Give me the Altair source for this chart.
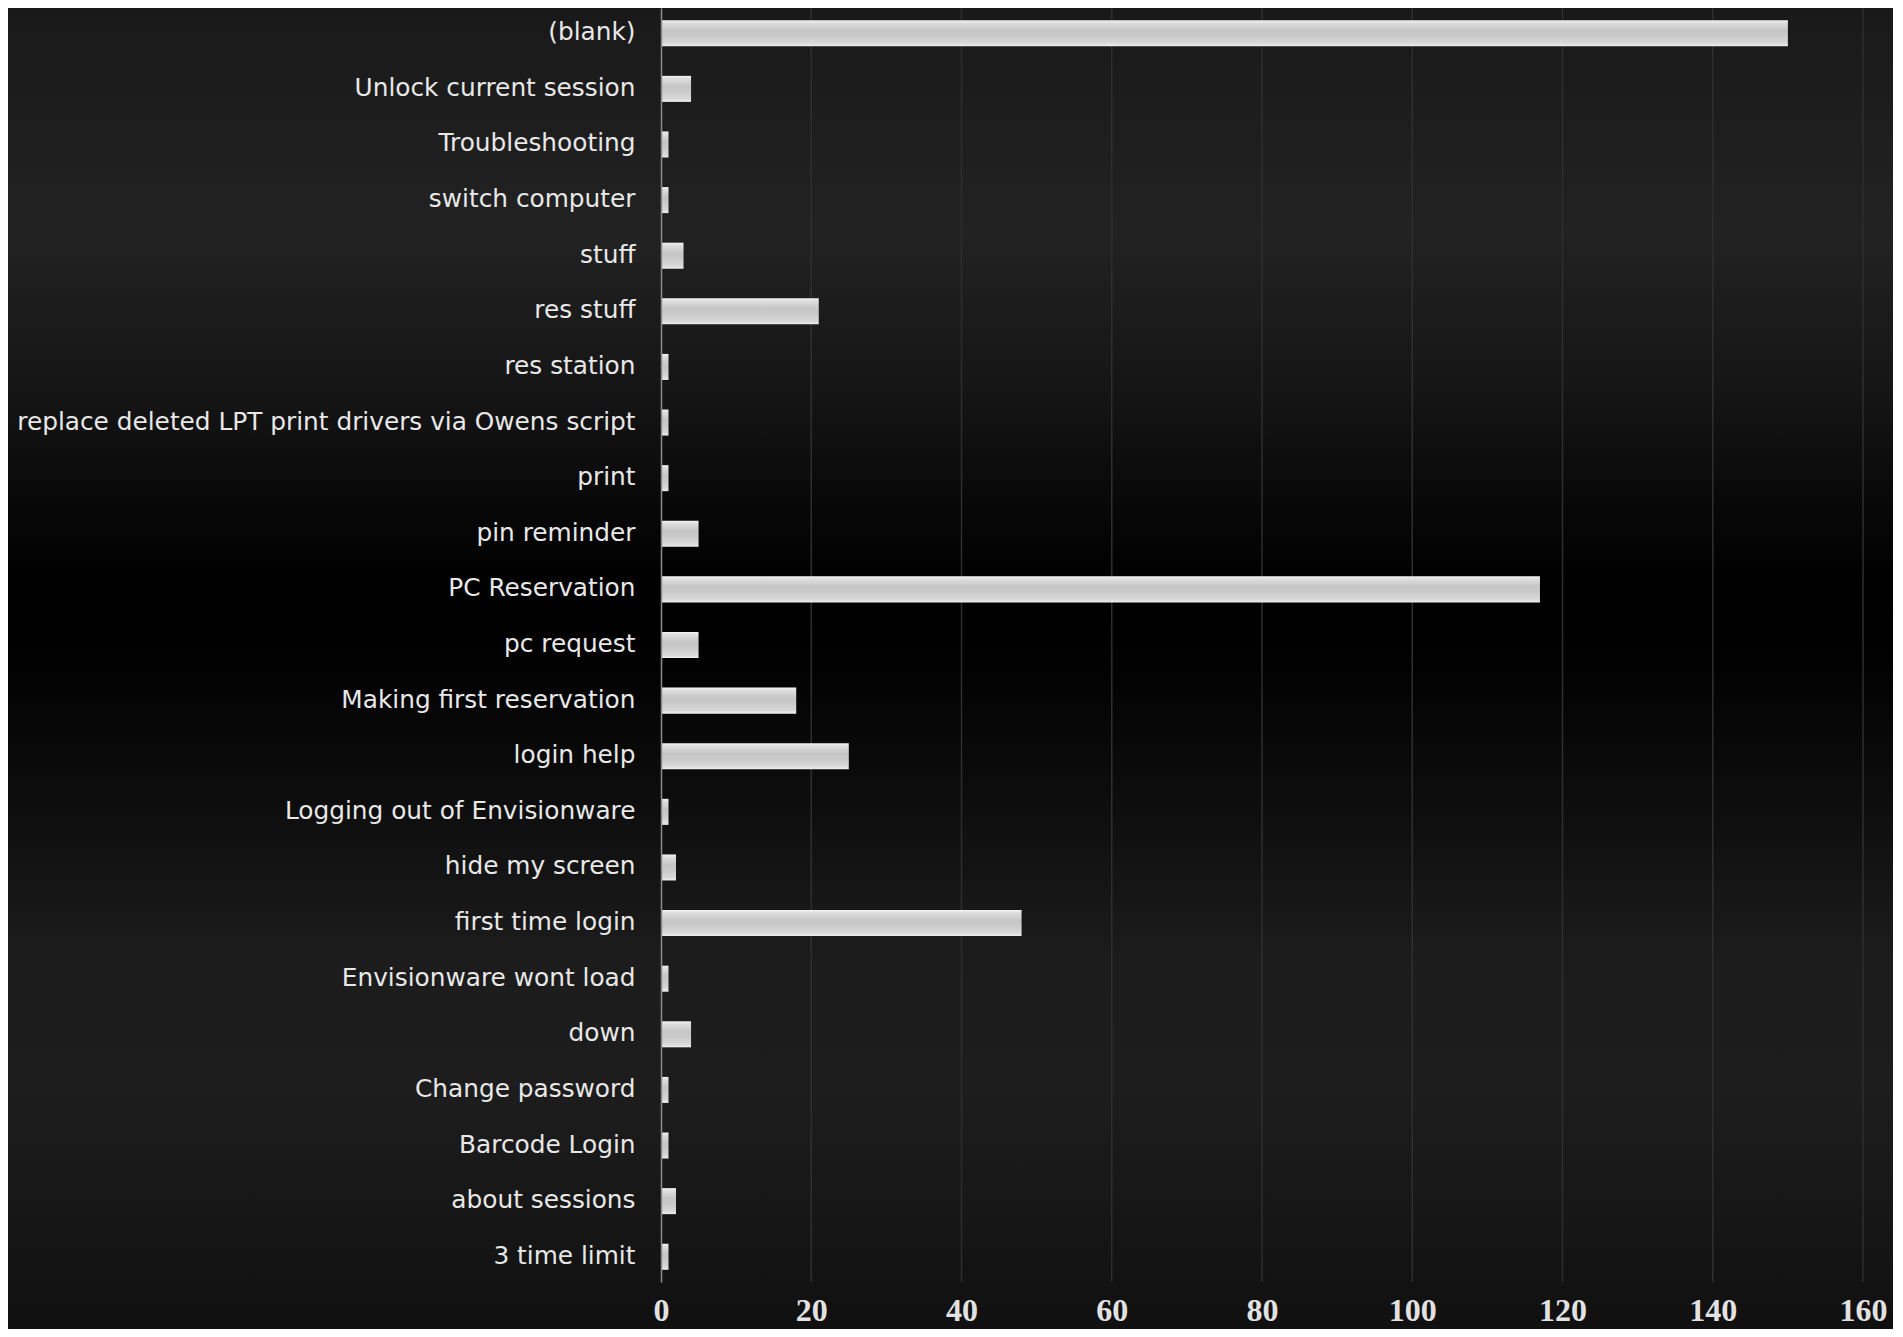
import altair as alt
import pandas as pd

categories = ["(blank)", "Unlock current session", "Troubleshooting", "switch computer",
              "stuff", "res stuff", "res station",
              "replace deleted LPT print drivers via Owens script", "print", "pin reminder",
              "PC Reservation", "pc request", "Making first reservation", "login help",
              "Logging out of Envisionware", "hide my screen", "first time login",
              "Envisionware wont load", "down", "Change password", "Barcode Login",
              "about sessions", "3 time limit"]
values = [150, 4, 1, 1, 3, 21, 1, 1, 1, 5, 117, 5, 18, 25, 1, 2, 48, 1, 4, 1, 1, 2, 1]
x_ticks = [0, 20, 40, 60, 80, 100, 120, 140, 160]

W, H = 1202, 1274
PAD = {"left": 653, "top": 0, "right": 30, "bottom": 47}

df = pd.DataFrame({"category": categories, "count": values})
grid_df = pd.DataFrame({"v": x_ticks[1:]})

bg_gradient = {
    "gradient": "linear", "x1": 0, "y1": 0, "x2": 0, "y2": 1,
    "stops": [
        {"offset": 0.0, "color": "#191919"},
        {"offset": 0.17, "color": "#222222"},
        {"offset": 0.30, "color": "#141414"},
        {"offset": 0.38, "color": "#070707"},
        {"offset": 0.44, "color": "#000000"},
        {"offset": 0.50, "color": "#020202"},
        {"offset": 0.60, "color": "#0d0d0d"},
        {"offset": 0.72, "color": "#1c1c1c"},
        {"offset": 0.82, "color": "#1d1d1d"},
        {"offset": 0.92, "color": "#161616"},
        {"offset": 1.0, "color": "#101010"},
    ],
}

bar_gradient = {
    "gradient": "linear", "x1": 0, "y1": 0, "x2": 0, "y2": 1,
    "stops": [
        {"offset": 0.0, "color": "#f4f4f4"},
        {"offset": 0.1, "color": "#dedede"},
        {"offset": 0.4, "color": "#c6c6c6"},
        {"offset": 0.6, "color": "#cacaca"},
        {"offset": 0.88, "color": "#d8d8d8"},
        {"offset": 1.0, "color": "#efefef"},
    ],
}

x_scale = alt.Scale(domain=[0, 160], nice=False, zero=True)
y_scale = alt.Scale(domain=categories, paddingInner=0.532, paddingOuter=0.22)

x_axis = alt.Axis(values=x_ticks, title=None, grid=False, ticks=False,
                  domain=False, labelFont="Liberation Serif",
                  labelFontWeight="bold", labelFontSize=32,
                  labelColor="#e2e2e2", labelPadding=13,
                  labelFlush=False, labelOverlap=False, zindex=1)

background = alt.Chart(pd.DataFrame({"a": [0]})).mark_rect(
    fill=bg_gradient, stroke=None
).encode(
    x=alt.value(-PAD["left"]), x2=alt.value(W + PAD["right"]),
    y=alt.value(-PAD["top"]), y2=alt.value(H + PAD["bottom"]),
)

grid = alt.Chart(grid_df).mark_rule(color="#2e2e2e", strokeWidth=1.5).encode(
    x=alt.X("v:Q", scale=x_scale, axis=x_axis),
    y=alt.value(0), y2=alt.value(H),
)

bars = alt.Chart(df).mark_bar(color=bar_gradient).encode(
    x=alt.X("count:Q", scale=x_scale, axis=x_axis),
    y=alt.Y("category:N", scale=y_scale, sort=categories,
            axis=alt.Axis(title=None, ticks=False, grid=False, domain=True,
                          domainColor="#8c8c8c", domainWidth=1.5,
                          labelFont="DejaVu Sans", labelFontSize=24.8,
                          labelColor="#e8e8e8", labelPadding=26,
                          labelLimit=1000, zindex=1)),
)

chart = alt.layer(background, grid, bars).properties(
    width=W, height=H, padding=PAD, autosize=alt.AutoSizeParams(type="none"),
    background="#141414",
).configure_view(stroke=None)

chart.save("out.html", embed_options={"renderer": "svg", "actions": False})
